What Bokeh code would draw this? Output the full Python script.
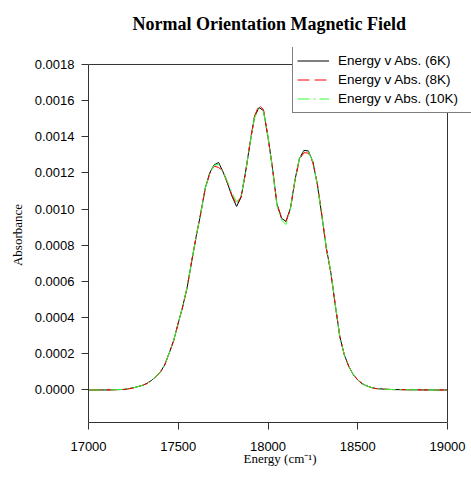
from bokeh.plotting import figure
from bokeh.models import (FixedTicker, Range1d, Legend, LegendItem, NumeralTickFormatter, Span)
from bokeh.embed import file_html
from bokeh.resources import INLINE

# ---- data ----
energy = [17000, 17100, 17200, 17250, 17300, 17325, 17350, 17375, 17400, 17425,
          17450, 17475, 17500, 17525, 17550, 17575, 17600, 17625, 17650, 17675,
          17700, 17725, 17750, 17775, 17800, 17825, 17850, 17875, 17900, 17925,
          17950, 17975, 18000, 18025, 18050, 18075, 18100, 18125, 18150, 18175,
          18200, 18225, 18250, 18275, 18300, 18325, 18350, 18375, 18400, 18425,
          18450, 18475, 18500, 18525, 18550, 18575, 18600, 18650, 18700, 18800,
          18900, 19000]

abs_6k = [0.0, 0.0, 0.000003, 0.000012, 0.000025, 0.000036, 0.000052, 0.000074, 0.000098, 0.000140,
          0.000205, 0.000275, 0.000370, 0.000462, 0.000570, 0.000712, 0.000850, 0.000975, 0.001115, 0.001200,
          0.001245, 0.001258, 0.001205, 0.001140, 0.001070, 0.001015, 0.001065, 0.001205, 0.001365, 0.001510,
          0.001562, 0.001545, 0.001400, 0.001225, 0.001025, 0.000950, 0.000932, 0.001005, 0.001160, 0.001280,
          0.001325, 0.001322, 0.001262, 0.001135, 0.000965, 0.000785, 0.000650, 0.000470, 0.000295, 0.000195,
          0.000130, 0.000085, 0.000055, 0.000035, 0.000022, 0.000014, 0.000008, 0.000004, 0.000002, 0.000001,
          0.0, 0.0]

abs_8k = [0.0, 0.0, 0.000003, 0.000011, 0.000026, 0.000035, 0.000053, 0.000073, 0.000099, 0.000138,
          0.000207, 0.000272, 0.000372, 0.000460, 0.000568, 0.000715, 0.000848, 0.000978, 0.001110, 0.001195,
          0.001238, 0.001230, 0.001212, 0.001145, 0.001075, 0.001025, 0.001070, 0.001200, 0.001370, 0.001515,
          0.001575, 0.001550, 0.001395, 0.001230, 0.001030, 0.000955, 0.000930, 0.001000, 0.001155, 0.001275,
          0.001312, 0.001310, 0.001258, 0.001140, 0.000968, 0.000780, 0.000648, 0.000468, 0.000297, 0.000193,
          0.000131, 0.000084, 0.000056, 0.000034, 0.000023, 0.000013, 0.000008, 0.000004, 0.000002, 0.000001,
          0.0, 0.0]

abs_10k = [0.0, 0.0, 0.000003, 0.000012, 0.000025, 0.000036, 0.000051, 0.000074, 0.000097, 0.000141,
           0.000204, 0.000276, 0.000368, 0.000463, 0.000572, 0.000710, 0.000852, 0.000972, 0.001112, 0.001198,
           0.001242, 0.001250, 0.001200, 0.001150, 0.001090, 0.001040, 0.001072, 0.001208, 0.001362, 0.001505,
           0.001558, 0.001540, 0.001402, 0.001222, 0.001018, 0.000940, 0.000915, 0.001000, 0.001162, 0.001282,
           0.001320, 0.001318, 0.001265, 0.001132, 0.000962, 0.000788, 0.000652, 0.000472, 0.000293, 0.000196,
           0.000129, 0.000086, 0.000054, 0.000036, 0.000022, 0.000014, 0.000008, 0.000004, 0.000002, 0.000001,
           0.0, 0.0]

x_min, x_max = 17000, 19000
y_min, y_max = -0.00018, 0.0018
x_ticks = [17000, 17500, 18000, 18500, 19000]
y_ticks = [0.0, 0.0002, 0.0004, 0.0006, 0.0008, 0.0010, 0.0012, 0.0014, 0.0016, 0.0018]
series_labels = ["Energy v Abs. (6K)", "Energy v Abs. (8K)", "Energy v Abs. (10K)"]

# plotting area is extended to the right/top so the legend (which overhangs the
# axes box in the reference) is not clipped; the axes are bounded to the data box
p = figure(width=471, height=480, output_backend="svg", toolbar_location=None,
           x_range=Range1d(x_min, 19133.7), y_range=Range1d(y_min, 0.001894),
           min_border_left=88, min_border_right=0, min_border_top=47, min_border_bottom=58,
           title="Normal Orientation Magnetic Field")

p.title.text_font = "Liberation Serif"
p.title.text_font_size = "18px"
p.title.text_font_style = "bold"
p.title.align = "left"
p.title.offset = 44
p.title.vertical_align = "top"
p.title.standoff = 23
p.title.text_color = "black"

p.xgrid.visible = False
p.ygrid.visible = False
p.outline_line_color = None
p.background_fill_color = "white"
p.border_fill_color = "white"

for ax in (p.xaxis[0], p.yaxis[0]):
    ax.axis_line_color = "#333333"
    ax.major_tick_line_color = "#333333"
    ax.minor_tick_line_color = None
    ax.major_tick_in = 0
    ax.major_tick_out = 7
    ax.major_label_text_font = "Liberation Sans"
    ax.major_label_text_font_size = "13px"
    ax.major_label_text_color = "black"
    ax.axis_label_text_font = "Liberation Serif"
    ax.axis_label_text_font_size = "13px"
    ax.axis_label_text_font_style = "normal"
    ax.axis_label_text_color = "black"

p.xaxis.bounds = (x_min, x_max)
p.yaxis.bounds = (y_min, y_max)
p.xaxis.ticker = FixedTicker(ticks=x_ticks)
p.yaxis.ticker = FixedTicker(ticks=y_ticks)
p.yaxis.formatter = NumeralTickFormatter(format="0.0000")
p.xaxis.formatter = NumeralTickFormatter(format="0")
p.xaxis.major_label_standoff = 12
p.yaxis.major_label_standoff = 7
p.xaxis.axis_label = "Energy (cm\u207b\u00b9)"
p.yaxis.axis_label = "Absorbance"
p.xaxis.axis_label_standoff = -3
p.yaxis.axis_label_standoff = 7

# top and right sides of the axes box
p.add_layout(Span(location=x_max, dimension="height", line_color="#333333", line_width=1))
p.add_layout(Span(location=y_max, dimension="width", line_color="#333333", line_width=1))

r1 = p.line(energy, abs_6k, line_color="black", line_width=1)
r2 = p.line(energy, abs_8k, line_color="#ff0000", line_width=1, line_dash="12 5")
r3 = p.line(energy, abs_10k, line_color="#33ff33", line_width=1, line_dash="12 4 2 4")

legend = Legend(items=[LegendItem(label=series_labels[0], renderers=[r1]),
                       LegendItem(label=series_labels[1], renderers=[r2]),
                       LegendItem(label=series_labels[2], renderers=[r3])],
                location=(204, 309))
legend.border_line_color = "black"
legend.border_line_width = 1
legend.background_fill_color = "white"
legend.background_fill_alpha = 1
legend.label_text_font = "Liberation Sans"
legend.label_text_font_size = "13.5px"
legend.label_text_color = "black"
legend.glyph_width = 32
legend.glyph_height = 19
legend.label_height = 19
legend.label_width = 140
legend.label_standoff = 9
legend.padding = 4
legend.spacing = 0
legend.margin = 0
p.add_layout(legend)

open("out.html", "w").write(file_html(p, INLINE))
